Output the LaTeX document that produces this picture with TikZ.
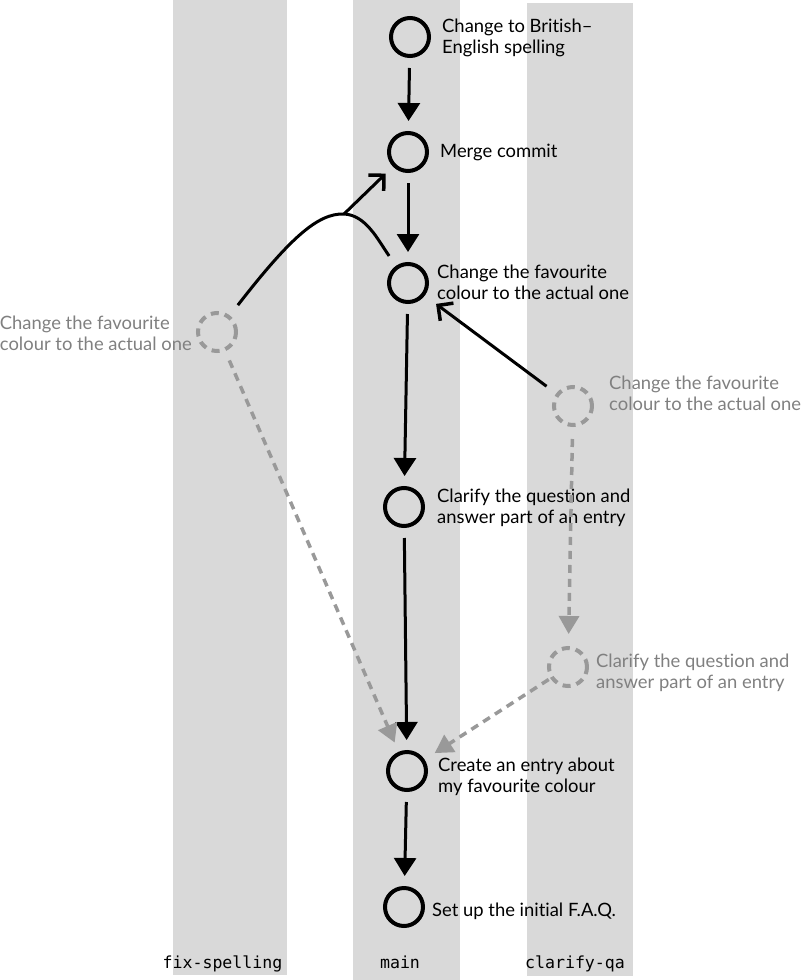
\documentclass[tikz,border=0pt]{standalone}
\usepackage{fontspec}
\setmainfont{Lato}[Ligatures={NoCommon,NoRare}]
\setmonofont{DejaVu Sans Mono}
\usetikzlibrary{arrows.meta,calc}
\definecolor{bandgray}{HTML}{D9D9D9}
\definecolor{ghostgray}{HTML}{999999}
\definecolor{textgray}{HTML}{808080}
\begin{document}
\begin{tikzpicture}[x=1pt,y=-1pt,
  band/.style={fill=bandgray, draw=none},
  commit/.style={circle, draw=black, line width=4pt, minimum size=38pt, inner sep=0pt},
  ghost/.style={circle, draw=ghostgray, line width=4pt, minimum size=38pt, inner sep=0pt, dash pattern=on 8pt off 6pt},
  lbl/.style={anchor=west, align=left, inner sep=0pt, font=\fontsize{18.4}{21}\selectfont},
  glbl/.style={lbl, text=textgray},
  branchlbl/.style={font=\ttfamily\fontsize{16.6}{20}\selectfont, anchor=base, inner sep=0pt},
  parent/.style={line width=3pt, -{Triangle[length=18pt,width=22pt]}, shorten <=10pt, shorten >=10pt},
  mergeline/.style={line width=3pt, -{Straight Barb[length=11pt,width=22pt,line width=3.5pt]}},
  ghostarrow/.style={draw=ghostgray, line width=3.5pt, dash pattern=on 8pt off 6pt, -{Triangle[length=18pt,width=20pt,fill=ghostgray]}, shorten <=10pt, shorten >=10pt}
]
\useasboundingbox (0,0) rectangle (802,980);
% branch bands
\fill[band] (173,0) rectangle (287,975);
\fill[band] (353,0) rectangle (460,980);
\fill[band] (527,3) rectangle (633,976);
\node[branchlbl] (bfix) at (222.5,968) {fix-spelling};
\node[branchlbl] (bmain) at (400,968) {main};
\node[branchlbl] (bqa) at (575,968) {clarify-qa};

% main commits
\node[commit] (C1) at (410,37) {};
\node[commit] (C2) at (408,152) {};
\node[commit] (C3) at (408,283) {};
\node[commit] (C4) at (404,507) {};
\node[commit] (C5) at (407,771) {};
\node[commit] (C6) at (404,907) {};
% ghost commits
\node[ghost] (F1) at (217,332) {};
\node[ghost] (Q1) at (573,406) {};
\node[ghost] (Q2) at (568,667) {};

% labels
\node[lbl] (T1) at (442,38) {Change to British–\\English spelling};
\node[lbl] (T2) at (440,152) {Merge commit};
\node[lbl] (T3) at (437,282) {Change the favourite\\colour to the actual one};
\node[lbl] (T4) at (437,508) {Clarify the question and\\answer part of an entry};
\node[lbl] (T5) at (438,777) {Create an entry about\\my favourite colour};
\node[lbl] (T6) at (432,911) {Set up the initial F.A.Q.};
\node[glbl, anchor=east] (TF1) at (192,333) {Change the favourite\\colour to the actual one};
\node[glbl] (TQ1) at (609,393) {Change the favourite\\colour to the actual one};
\node[glbl] (TQ2) at (596,673) {Clarify the question and\\answer part of an entry};

% main line
\draw[parent] (C1) -- (C2);
\draw[parent] (C2) -- (C3);
\draw[parent] (C3) -- (C4);
\draw[parent] (C4) -- (C5);
\draw[parent] (C5) -- (C6);

% merge
\coordinate (peak) at (344,214);
\draw[line width=3pt, shorten <=13pt, shorten >=12pt]
  (F1) .. controls (290,238) and (318,213) .. (peak)
       .. controls (366,215) and (378,240) .. (C3);
\draw[mergeline, shorten >=10pt] (peak) -- (C2);
\draw[mergeline, shorten <=12pt, shorten >=14pt] (Q1) -- (C3);

% ghost arrows
\draw[ghostarrow] (F1) -- (C5);
\draw[ghostarrow, shorten <=12pt, shorten >=12pt] (Q1) -- (Q2);
\draw[ghostarrow, shorten <=2pt, shorten >=12pt] (Q2) -- (C5);
\end{tikzpicture}
\end{document}
